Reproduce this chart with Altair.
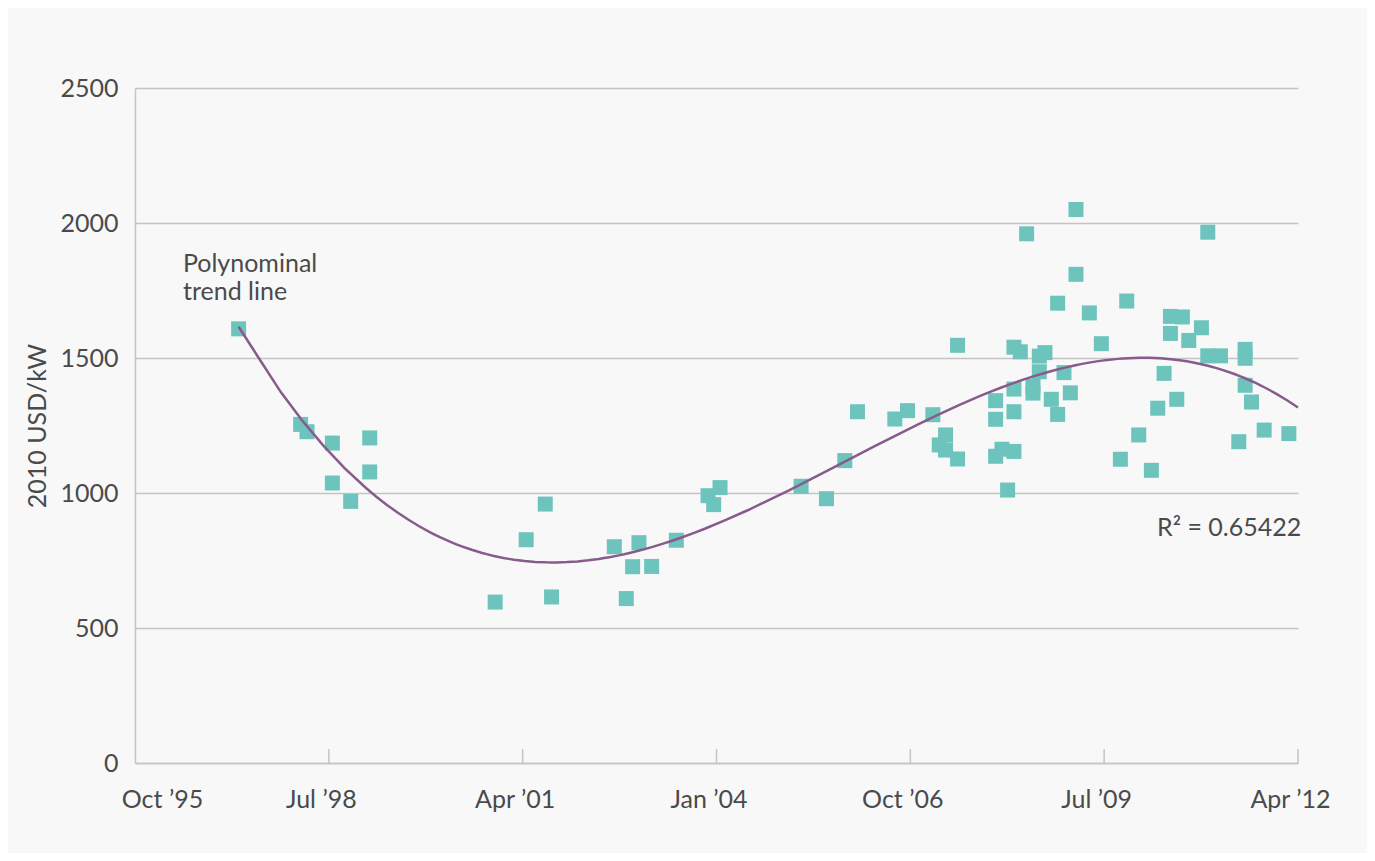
import altair as alt
import pandas as pd

# decimal years and 2010 USD/kW values
years = [1997.22, 1998.10, 1998.19, 1998.55, 1998.55, 1998.81, 1999.08, 1999.08,
         2000.86, 2001.30, 2001.57, 2001.66, 2002.55, 2002.72, 2002.81, 2002.90,
         2003.08, 2003.43, 2003.88, 2003.96, 2004.05, 2005.20, 2005.56, 2005.82,
         2006.00, 2006.53, 2006.71, 2007.07, 2007.16, 2007.25, 2007.25, 2007.42,
         2007.42, 2007.96, 2007.96, 2007.96, 2008.05, 2008.13, 2008.22, 2008.22,
         2008.22, 2008.22, 2008.31, 2008.40, 2008.49, 2008.49, 2008.58, 2008.58,
         2008.66, 2008.75, 2008.84, 2008.84, 2008.93, 2009.02, 2009.10, 2009.10,
         2009.29, 2009.46, 2009.73, 2009.82, 2009.99, 2010.17, 2010.26, 2010.35,
         2010.44, 2010.44, 2010.53, 2010.61, 2010.70, 2010.88, 2010.97, 2010.97,
         2011.15, 2011.41, 2011.50, 2011.50, 2011.50, 2011.59, 2011.77, 2012.12]
values = [1608, 1254, 1227, 1185, 1037, 969, 1204, 1078,
          596, 827, 959, 615, 801, 609, 727, 816,
          728, 825, 990, 957, 1020, 1025, 979, 1120,
          1301, 1274, 1305, 1290, 1178, 1215, 1159, 1126,
          1547, 1342, 1273, 1136, 1162, 1011, 1154, 1301,
          1385, 1540, 1523, 1960, 1396, 1370, 1507, 1449,
          1520, 1347, 1291, 1703, 1446, 1371, 2050, 1810,
          1667, 1553, 1125, 1711, 1215, 1084, 1314, 1443,
          1654, 1591, 1347, 1652, 1565, 1612, 1966, 1508,
          1508, 1190, 1532, 1499, 1399, 1337, 1233, 1220]

tick_values = [1995.75, 1998.5, 2001.25, 2004.0, 2006.75, 2009.5, 2012.25]
tick_labels = ["Oct \u201995", "Jul \u201998", "Apr \u201901", "Jan \u201904",
               "Oct \u201906", "Jul \u201909", "Apr \u201912"]
y_ticks = [0, 500, 1000, 1500, 2000, 2500]

trend_extent = [1997.22, 2012.25]
notes_x = [1996.43, 2010.25]
notes_y = [1818, 841]
notes_text = ["Polynominal\ntrend line", "R\u00b2 = 0.65422"]

FONT = "Lato"
TEXT = "#4a4a4a"
GRID = "#c4c4c4"
FS = 25

df = pd.DataFrame({"year": years, "value": values})
ticks_df = pd.DataFrame({"year": tick_values[1:]})
notes_df = pd.DataFrame({"year": notes_x, "value": notes_y, "label": notes_text})

label_expr = "[" + ",".join("'" + t + "'" for t in tick_labels) + "][round((datum.value - %s) / 2.75)]" % tick_values[0]

x_scale = alt.Scale(domain=[tick_values[0], tick_values[-1]], nice=False, zero=False)
y_scale = alt.Scale(domain=[0, 2500], nice=False)

x_axis = alt.Axis(values=tick_values, labelExpr=label_expr, grid=False, ticks=False,
                  domainColor=GRID, domainWidth=1.5, labelPadding=24, title=None,
                  labelFlush=False,
                  labelOffset={"condition": {"test": "datum.value < 1996", "value": 27},
                               "value": -8},
                  labelFont=FONT, labelFontSize=FS, labelColor=TEXT)
y_axis = alt.Axis(values=y_ticks, format="d", grid=True, gridColor=GRID, gridWidth=1.5,
                  ticks=False, domainColor=GRID, domainWidth=1.5, labelPadding=17,
                  labelFont=FONT, labelFontSize=FS, labelColor=TEXT,
                  title="2010 USD/kW", titleFont=FONT, titleFontSize=FS,
                  titleFontWeight="normal", titleColor=TEXT, titlePadding=9)

points = alt.Chart(df).mark_square(size=225, color="#6dc4bc", opacity=1).encode(
    x=alt.X("year:Q", scale=x_scale, axis=x_axis),
    y=alt.Y("value:Q", scale=y_scale, axis=y_axis),
)

trend = alt.Chart(df).transform_regression(
    "year", "value", method="poly", order=3, extent=trend_extent
).mark_line(color="#875b8c", strokeWidth=2.5).encode(
    x=alt.X("year:Q", scale=x_scale),
    y=alt.Y("value:Q", scale=y_scale),
)

tick_rules = alt.Chart(ticks_df).mark_rule(color=GRID, strokeWidth=1.5).encode(
    x=alt.X("year:Q", scale=x_scale),
    y=alt.value(661),
    y2=alt.value(675),
)

notes = alt.Chart(notes_df).mark_text(
    align="left", baseline="alphabetic", font=FONT, fontSize=FS, color=TEXT,
    lineBreak="\n", lineHeight=28
).encode(
    x=alt.X("year:Q", scale=x_scale),
    y=alt.Y("value:Q", scale=y_scale),
    text="label:N",
)

chart = alt.layer(tick_rules, points, trend, notes).properties(
    width=1163, height=675,
    autosize=alt.AutoSizeParams(type="none"),
    padding={"left": 127, "top": 80, "right": 69, "bottom": 90},
    background="#f8f8f8",
).configure_view(stroke=None)

chart.save("out.html", embed_options={"renderer": "svg", "actions": False})
